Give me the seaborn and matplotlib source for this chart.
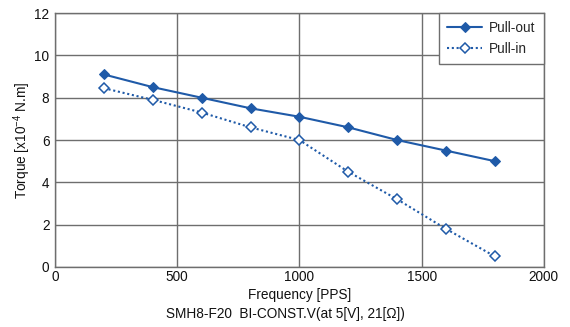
import matplotlib
matplotlib.use("Agg")
import matplotlib.pyplot as plt
import seaborn as sns
import pandas as pd

frequency = [200, 400, 600, 800, 1000, 1200, 1400, 1600, 1800]
pull_out = [9.1, 8.5, 8.0, 7.5, 7.1, 6.6, 6.0, 5.5, 5.0]
pull_in = [8.45, 7.9, 7.3, 6.6, 6.0, 4.5, 3.2, 1.8, 0.5]
x_ticks = [0, 500, 1000, 1500, 2000]
y_ticks = [0, 2, 4, 6, 8, 10, 12]

sns.set_theme(style="white")
plt.rcParams["font.family"] = ["Liberation Sans", "DejaVu Sans"]
plt.rcParams["mathtext.fontset"] = "custom"
plt.rcParams["mathtext.rm"] = "Liberation Sans"
plt.rcParams["mathtext.it"] = "Liberation Sans"

blue = "#1f5aa8"
grid_c = "#6e6e6e"
txt_c = "#111111"
fs = 9.8

df = pd.DataFrame({"Frequency": frequency, "Pull-out": pull_out, "Pull-in": pull_in})

fig = plt.figure(figsize=(5.70, 3.27), dpi=100)
ax = fig.add_axes([0.0965, 0.1835, 0.8575, 0.7765])

sns.lineplot(data=df, x="Frequency", y="Pull-out", ax=ax, color=blue, lw=1.5,
             marker="D", markersize=5.5, markerfacecolor=blue, markeredgecolor=blue,
             label="Pull-out")
sns.lineplot(data=df, x="Frequency", y="Pull-in", ax=ax, color=blue, lw=1.5,
             linestyle=(0, (1, 1.3)), marker="D", markersize=5.5,
             markerfacecolor="white", markeredgecolor=blue, markeredgewidth=1.1,
             label="Pull-in")

ax.set_xlim(0, 2000)
ax.set_ylim(0, 12)
ax.set_xticks(x_ticks)
ax.set_yticks(y_ticks)
ax.grid(True, color=grid_c, lw=1.0)
ax.set_axisbelow(True)
for s in ax.spines.values():
    s.set_color(grid_c)
    s.set_linewidth(1.0)
ax.tick_params(axis="x", length=0, labelsize=fs, colors=txt_c, pad=2)
ax.tick_params(axis="y", length=0, labelsize=fs, colors=txt_c, pad=4)

ax.set_xlabel("Frequency [PPS]", fontsize=fs, color=txt_c, labelpad=3)
ax.set_ylabel(r"Torque [x10$^{-4}$ N.m]", fontsize=fs, color=txt_c, labelpad=1)
fig.text(0.5, 0.028, "SMH8-F20  BI-CONST.V(at 5[V], 21[Ω])", ha="center",
         fontsize=fs, color=txt_c)

leg = ax.legend(loc="upper right", fontsize=fs, frameon=True, fancybox=False,
                borderaxespad=0, handlelength=2.6, handletextpad=0.5,
                borderpad=0.6, labelspacing=0.5)
leg.get_frame().set_edgecolor(grid_c)
leg.get_frame().set_linewidth(1.0)
leg.get_frame().set_alpha(1)

fig.savefig("out.png", dpi=100)
